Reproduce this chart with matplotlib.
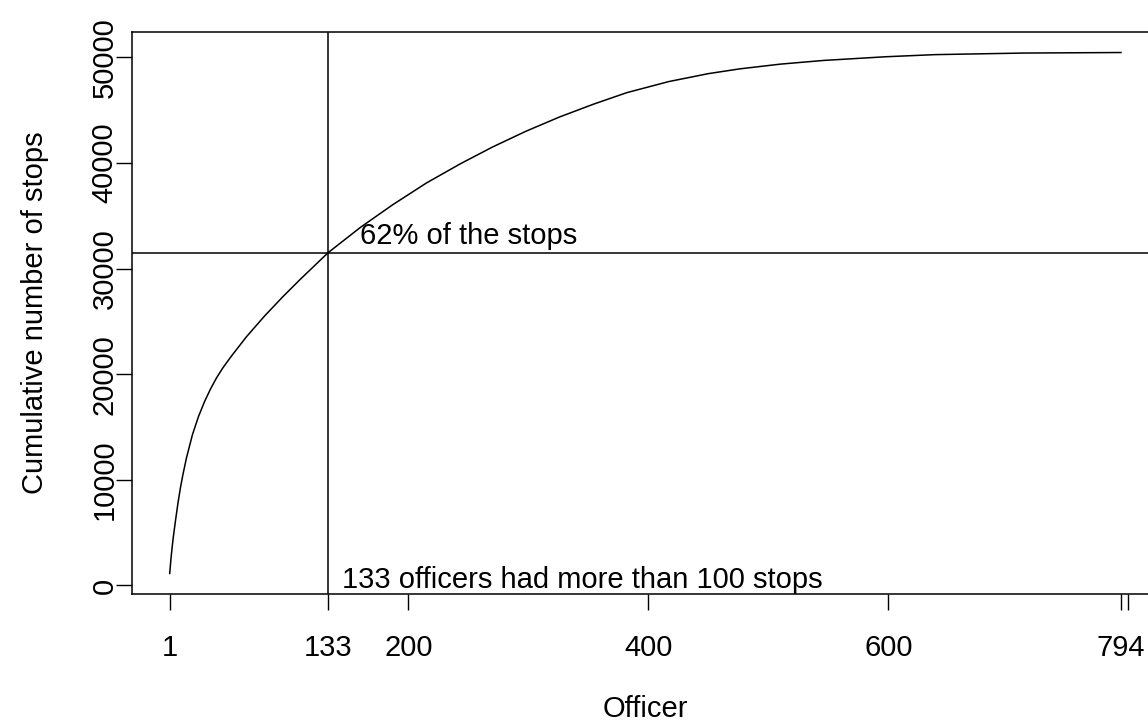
import matplotlib
matplotlib.use("Agg")
import matplotlib.pyplot as plt
import numpy as np

# cumulative stops (officers sorted by stop count)
officer = [1, 2, 3, 4, 6, 8, 10, 12, 15, 20, 25, 30, 35, 40, 45, 52, 65, 80,
           95, 110, 133, 160, 187, 215, 243, 270, 298, 326, 354, 382, 417,
           450, 476, 510, 546, 598, 639, 713, 794]
cum_stops = [1140, 2500, 3600, 4600, 6300, 7900, 9300, 10500, 12100, 14300,
             16000, 17400, 18600, 19650, 20550, 21650, 23550, 25500, 27300,
             29000, 31500, 33900, 36050, 38100, 39900, 41500, 43000, 44350,
             45550, 46650, 47700, 48450, 48900, 49350, 49700, 50050, 50250,
             50400, 50450]

x_ticks = [1, 133, 200, 400, 600, 794, 800]
x_labels = ["1", "133", "200", "400", "600", "794", ""]
y_ticks = [0, 10000, 20000, 30000, 40000, 50000]

cut_officer = 133
cut_stops = 31500

plt.rcParams['font.family'] = ['Liberation Sans', 'DejaVu Sans']
fs = 21

fig = plt.figure(figsize=(11.48, 7.25), dpi=100)
ax = fig.add_axes([0.1147, 0.1803, 0.8949, 0.7760])

ax.plot(officer, cum_stops, color='black', lw=1.1)
ax.axvline(cut_officer, color='black', lw=1.1)
ax.axhline(cut_stops, color='black', lw=1.1)

# R style 4% padding on both axes
xr = officer[-1] - officer[0]
ax.set_xlim(officer[0] - 0.04 * xr, officer[-1] + 0.04 * xr)
yr = max(cum_stops) - min(cum_stops)
ax.set_ylim(min(cum_stops) - 0.04 * yr, max(cum_stops) + 0.04 * yr)

ax.set_xticks(x_ticks)
ax.set_xticklabels(x_labels)
ax.set_yticks(y_ticks)
ax.set_yticklabels([str(v) for v in y_ticks], rotation=90, va='center')
ax.tick_params(direction='out', length=11.5, width=1.0, labelsize=fs)
ax.tick_params(axis='x', pad=17)
ax.tick_params(axis='y', pad=-2)
for s in ax.spines.values():
    s.set_linewidth(1.1)

ax.set_xlabel("Officer", fontsize=fs, labelpad=24)
ax.set_ylabel("Cumulative number of stops", fontsize=fs, labelpad=30)

ax.annotate("62% of the stops", xy=(160, cut_stops), xytext=(0, 6),
            textcoords='offset points', fontsize=fs, ha='left', va='baseline')
ax.annotate("133 officers had more than 100 stops", xy=(145, 0),
            xycoords=('data', 'axes fraction'), xytext=(0, 4.5),
            textcoords='offset points', fontsize=fs, ha='left', va='baseline')

fig.savefig("out.png", dpi=100)
